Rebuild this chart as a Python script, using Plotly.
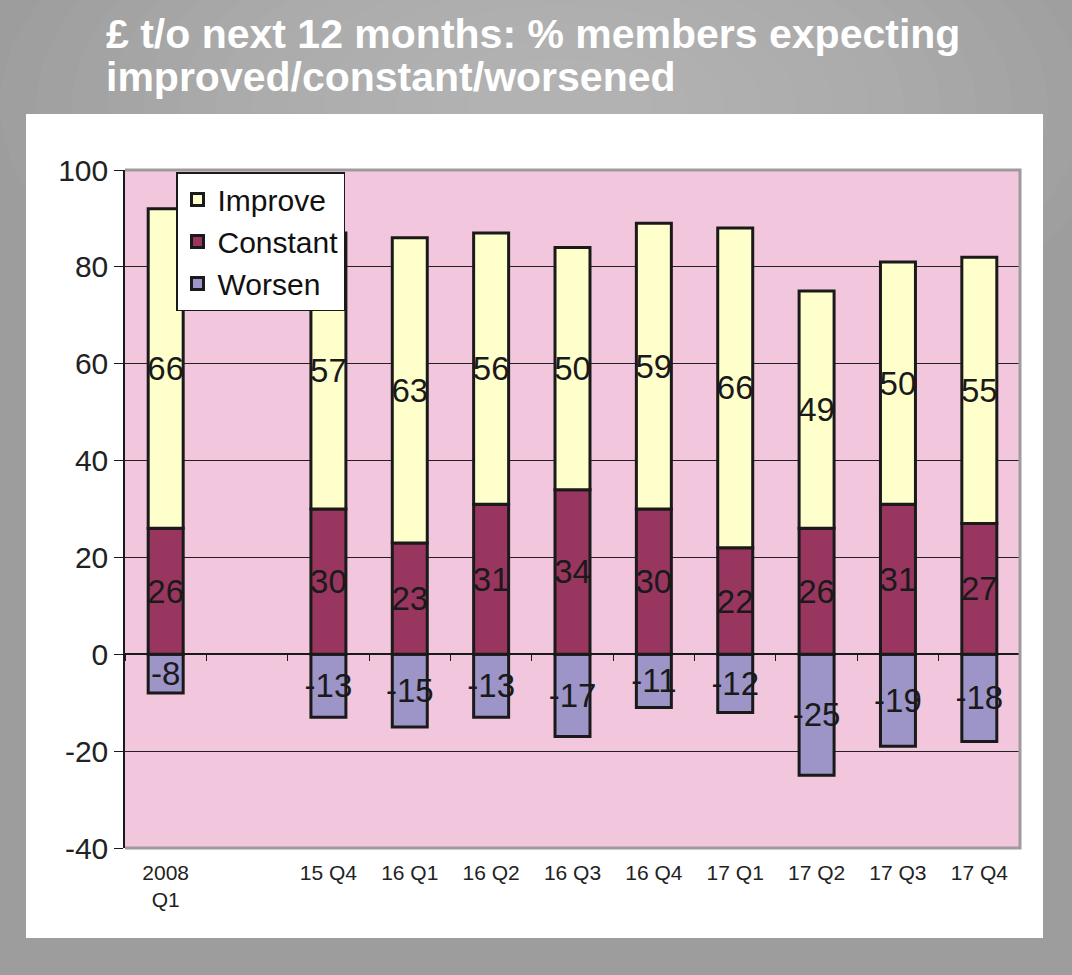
import plotly.graph_objects as go

# ---- data ----
categories = ["2008<br>Q1", "15 Q4", "16 Q1", "16 Q2", "16 Q3", "16 Q4",
              "17 Q1", "17 Q2", "17 Q3", "17 Q4"]
axis_categories = ["2008<br>Q1", " ", "15 Q4", "16 Q1", "16 Q2", "16 Q3", "16 Q4",
                   "17 Q1", "17 Q2", "17 Q3", "17 Q4"]
improve = [66, 57, 63, 56, 50, 59, 66, 49, 50, 55]
constant = [26, 30, 23, 31, 34, 30, 22, 26, 31, 27]
worsen = [-8, -13, -15, -13, -17, -11, -12, -25, -19, -18]
y_ticks = [-40, -20, 0, 20, 40, 60, 80, 100]

title_line1 = "£ t/o next 12 months: % members expecting"
title_line2 = "improved/constant/worsened"

# ---- styling ----
W, H = 1072, 975
ML, MR, MT, MB = 125, 52, 170, 127
PW = W - ML - MR
PH = H - MT - MB
FONT = "Liberation Sans, Arial, sans-serif"


def px(x):
    return (x - ML) / PW


def py(y):
    return (H - MB - y) / PH


colors = {"Improve": "#ffffcc", "Constant": "#993660", "Worsen": "#9d94c8"}

fig = go.Figure()
for name, vals in [("Worsen", worsen), ("Constant", constant), ("Improve", improve)]:
    fig.add_trace(go.Bar(
        name=name, x=categories, y=vals,
        text=[str(v) for v in vals],
        textposition="inside", insidetextanchor="middle", constraintext="none",
        textangle=0,
        textfont=dict(family=FONT, size=33, color="#1a1a1a"),
        marker=dict(color=colors[name], line=dict(color="#1a1a1a", width=3)),
    ))

# invisible trace to activate zero-line tick axis
fig.add_trace(go.Scatter(x=[None], y=[None], xaxis="x2", showlegend=False, hoverinfo="skip"))

shapes = []
# soft radial highlight in grey background
for i in range(14):
    r = 560 - i * 36
    cx, cy = 560, 105
    shapes.append(dict(type="circle", xref="paper", yref="paper", layer="below",
                       x0=px(cx - r), x1=px(cx + r), y0=py(cy + r * 0.5), y1=py(cy - r * 0.5),
                       fillcolor="rgba(255,255,255,0.022)", line=dict(width=0)))
# white panel
shapes.append(dict(type="rect", xref="paper", yref="paper", layer="below",
                   x0=px(26), x1=px(1043), y0=py(938), y1=py(114),
                   fillcolor="white", line=dict(width=0)))
# pink plot area
shapes.append(dict(type="rect", xref="paper", yref="paper", layer="below",
                   x0=0, x1=1, y0=0, y1=1, fillcolor="#f2c7de", line=dict(width=0)))
# grey border top/right/bottom
shapes.append(dict(type="path", xref="paper", yref="paper", layer="above",
                   path="M 0,1 L 1,1 L 1,0 L 0,0",
                   line=dict(color="#a09a9c", width=3)))

annotations = [
    dict(text=title_line1, xref="paper", yref="paper", x=px(104), y=py(34),
         xanchor="left", yanchor="middle", showarrow=False,
         font=dict(family=FONT, size=41, color="white", weight="bold")),
    dict(text=title_line2, xref="paper", yref="paper", x=px(104), y=py(77),
         xanchor="left", yanchor="middle", showarrow=False,
         font=dict(family=FONT, size=41, color="white", weight="bold")),
]

fig.update_layout(
    width=W, height=H, autosize=False,
    margin=dict(l=ML, r=MR, t=MT, b=MB),
    paper_bgcolor="#9d9d9d", plot_bgcolor="rgba(0,0,0,0)",
    barmode="relative", bargap=0.57,
    showlegend=True,
    legend=dict(x=px(176), y=py(172), xanchor="left", yanchor="top",
                bgcolor="white", bordercolor="#1a1a1a", borderwidth=1.5,
                traceorder="reversed",
                font=dict(family=FONT, size=30, color="#111")),
    shapes=shapes, annotations=annotations,
    xaxis=dict(type="category", categoryorder="array", categoryarray=axis_categories,
               range=[-0.5, len(axis_categories) - 0.5],
               showline=False, ticks="", showgrid=False, zeroline=False,
               tickfont=dict(family=FONT, size=21, color="#222"),
               ticklabelstandoff=10),
    xaxis2=dict(overlaying="x", anchor="free", position=(0 - y_ticks[0]) / (y_ticks[-1] - y_ticks[0]),
                type="linear", range=[-0.5, len(axis_categories) - 0.5],
                tick0=0.5, dtick=1, ticks="outside", ticklen=6, tickwidth=1,
                tickcolor="#1a1a1a", showticklabels=False, showgrid=False,
                zeroline=False, showline=False),
    yaxis=dict(range=[y_ticks[0], y_ticks[-1]], tickvals=y_ticks,
               ticktext=[str(v) for v in y_ticks],
               showgrid=True, gridcolor="#222", gridwidth=1,
               zeroline=True, zerolinecolor="#1a1a1a", zerolinewidth=1.5,
               showline=True, linecolor="#1a1a1a", linewidth=1.5,
               ticks="outside", ticklen=9, tickcolor="#1a1a1a",
               tickfont=dict(family=FONT, size=30, color="#222")),
    uniformtext=dict(minsize=33, mode="show"),
)

fig.write_html("out.html", config={"displayModeBar": False},
               post_script="document.body.style.margin='0';")
